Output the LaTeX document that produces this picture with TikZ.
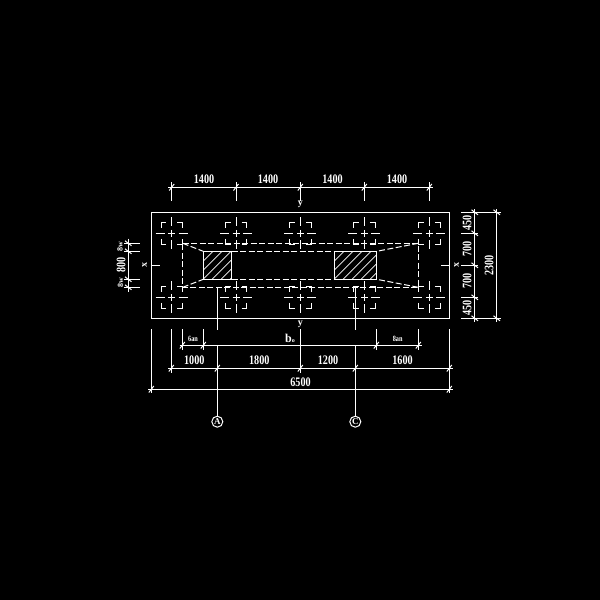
\documentclass[tikz,border=0pt]{standalone}
\usepackage{fontspec}
\setmainfont{Liberation Serif}
\newcommand{\lbl}[1]{\scalebox{.78}[1]{\textbf{#1}}}
\tikzset{
	plan/.style={x=1pt,y=-1pt,line width=1pt,white},
	dashline/.style={dash pattern=on 6pt off 2.5pt},
	dimtxt/.style={font=\fontsize{13}{13}\selectfont,text=white,inner sep=0},
	smalltxt/.style={font=\fontsize{8}{8}\selectfont,text=white,inner sep=0},
	axislbl/.style={font=\fontsize{10}{10}\selectfont,text=white,inner sep=0},
	axisnode/.style={circle,draw,inner sep=0,minimum size=11pt,font=\fontsize{9}{9}\selectfont\bfseries,text=white},
}
\begin{document}
\begin{tikzpicture}[plan]
\fill[black] (0,0) rectangle (600,600);
\useasboundingbox (0,0) rectangle (600,600);
\draw (151.5,212.3) rectangle (449.5,318.3);
\foreach \x in {171.7,236,300.3,364.3,429.3}
	\foreach \y in {233.3,297.3} {
		\draw (\x-16,\y) -- (\x-7,\y) (\x-3.5,\y) -- (\x+3.5,\y) (\x+7,\y) -- (\x+16,\y);
		\draw (\x,\y-16) -- (\x,\y-7) (\x,\y-3.5) -- (\x,\y+3.5) (\x,\y+7) -- (\x,\y+16);
		\draw (\x-10.7,\y-5.5) -- (\x-10.7,\y-10.7) -- (\x-5.5,\y-10.7);
		\draw (\x+5.5,\y-10.7) -- (\x+10.7,\y-10.7) -- (\x+10.7,\y-5.5);
		\draw (\x-10.7,\y+5.5) -- (\x-10.7,\y+10.7) -- (\x-5.5,\y+10.7);
		\draw (\x+5.5,\y+10.7) -- (\x+10.7,\y+10.7) -- (\x+10.7,\y+5.5);
	}
\draw[dashline] (182.7,243.3) -- (418.3,243.3) -- (418.3,287.3) -- (182.7,287.3) -- cycle;
\draw[dashline] (231.7,251.3) -- (334.3,251.3) (231.7,279.3) -- (334.3,279.3);
\draw[dashline] (182.7,243.3) -- (203.3,251.3) (182.7,287.3) -- (203.3,279.3);
\draw[dashline] (418.3,243.3) -- (376.7,251.3) (418.3,287.3) -- (376.7,279.3);
\draw (203.3,251.3) rectangle (231.7,279.3);
\draw (334.3,251.3) rectangle (376.7,279.3);
\begin{scope}
	\clip (203.3,251.3) rectangle (231.7,279.3);
	\foreach \x in {176,185,...,235}
		\draw[line width=.7pt] (\x,279.3) -- (\x+28,251.3);
\end{scope}
\begin{scope}
	\clip (334.3,251.3) rectangle (376.7,279.3);
	\foreach \x in {307,316,...,378}
		\draw[line width=.7pt] (\x,279.3) -- (\x+28,251.3);
\end{scope}
\draw (152,265.3) -- (160,265.3) (441,265.3) -- (449.5,265.3);
\node[axislbl,rotate=90] (xl) at (144.5,265.3) {\textbf{x}};
\node[axislbl,rotate=90] (xr) at (456.5,265.3) {\textbf{x}};
\node[axislbl] (yt) at (300.3,204.5) {\textbf{y}};
\node[axislbl] (yb) at (300.3,324) {\textbf{y}};
\draw (168,187.3) -- (433,187.3);
\foreach \x in {171.7,236,300.3,364.3,429.3} {
	\draw (\x,182) -- (\x,200.7);
	\draw (\x-2.5,190.5) -- (\x+2.5,184);
}
\foreach \x/\t in {204/1400,268/1400,332.5/1400,397/1400}
	\node[dimtxt] (top\x) at (\x,179) {\lbl{\t}};
\draw (474.7,209) -- (474.7,321.5) (496.7,209) -- (496.7,321.5);
\foreach \y in {212.3,233.3,265.3,297.3,318.3} {
	\draw (461,\y) -- (478,\y);
	\draw (471.5,\y-2.5) -- (478,\y+2.5);
}
\foreach \y in {212.3,318.3} {
	\draw (475,\y) -- (501,\y);
	\draw (493.5,\y-2.5) -- (500,\y+2.5);
}
\foreach \y/\t in {222.8/450,249.3/700,281.3/700,307.8/450}
	\node[dimtxt,rotate=90] (rgt\y) at (467,\y) {\lbl{\t}};
\node[dimtxt,rotate=90] (overall) at (489,265.3) {\lbl{2300}};
\draw (128.3,238.5) -- (128.3,292);
\foreach \y in {243.3,251.3,279.3,287.3} {
	\draw (124,\y) -- (140,\y);
	\draw (125,\y-2.5) -- (131.5,\y+2.5);
}
\node[smalltxt,rotate=90] (wt) at (120,247) {\textbf{8w}};
\node[smalltxt,rotate=90] (wb) at (120.5,283) {\textbf{8w}};
\node[dimtxt,rotate=90] (lft) at (121,265.3) {\lbl{800}};
\foreach \x in {182.3,203.3,376.3,418.3}
	\draw (\x,329) -- (\x,350);
\draw (151.3,329) -- (151.3,393) (449.3,329) -- (449.3,393);
\draw (171.3,329) -- (171.3,372.5) (300.3,329) -- (300.3,372.5);
\draw (217.3,287.3) -- (217.3,330) (355.3,287.3) -- (355.3,330);
\draw (179.5,345.3) -- (422,345.3);
\draw (168,368.3) -- (453,368.3);
\draw (148,389.3) -- (453,389.3);
\foreach \x in {182.3,203.3,376.3,418.3}
	\draw (\x-2.5,348.5) -- (\x+2.5,342);
\foreach \x in {171.3,217.3,300.3,355.3,449.3}
	\draw (\x-2.5,371.5) -- (\x+2.5,365);
\foreach \x in {151.3,449.3}
	\draw (\x-2.5,392.5) -- (\x+2.5,386);
\node[smalltxt] (gapl) at (193,339) {\lbl{6an}};
\node[smalltxt,font=\fontsize{12}{12}\selectfont] (bo) at (290,338.5) {\textbf{b}{\fontsize{6}{6}\selectfont\textbf{o}}};
\node[smalltxt] (gapr) at (397.7,339) {\lbl{8an}};
\node[dimtxt] (d1) at (194.3,360.5) {\lbl{1000}};
\node[dimtxt] (d2) at (259.3,360.5) {\lbl{1800}};
\node[dimtxt] (d3) at (328,360.5) {\lbl{1200}};
\node[dimtxt] (d4) at (402.5,360.5) {\lbl{1600}};
\node[dimtxt] (total) at (300.5,382) {\lbl{6500}};
\node[axisnode] (axA) at (217.3,421.7) {A};
\node[axisnode] (axC) at (355.3,421.7) {C};
\draw (217.3,345.3) -- (axA);
\draw (355.3,345.3) -- (axC);
\end{tikzpicture}
\end{document}
